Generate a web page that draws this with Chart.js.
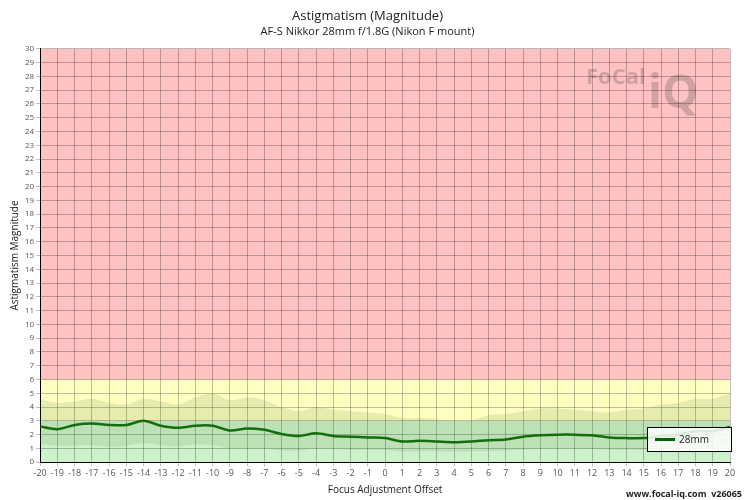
<!DOCTYPE html>
<html><head><meta charset="utf-8">
<script src="https://cdn.jsdelivr.net/npm/chart.js@4"></script>
<style>body{margin:0;background:#fff}#w{width:750px;height:500px;position:relative}</style>
</head><body><div id="w"><canvas id="c"></canvas></div>
<script>
const offsets=[-20,-19,-18,-17,-16,-15,-14,-13,-12,-11,-10,-9,-8,-7,-6,-5,-4,-3,-2,-1,0,1,2,3,4,5,6,7,8,9,10,11,12,13,14,15,16,17,18,19,20];
const magnitude=[2.6,2.4,2.7,2.8,2.7,2.7,3.0,2.65,2.5,2.65,2.65,2.3,2.45,2.35,2.05,1.9,2.1,1.9,1.85,1.8,1.75,1.5,1.55,1.5,1.45,1.5,1.6,1.65,1.85,1.95,2.0,2.0,1.95,1.8,1.75,1.75,1.9,2.0,2.25,2.25,2.55];
const upperBand=[4.6,4.3,4.4,4.6,4.3,4.2,4.6,4.4,4.2,4.7,5.0,4.5,4.7,4.5,4.0,3.7,4.0,3.8,3.7,3.6,3.5,3.2,3.2,3.1,3.0,3.0,3.4,3.5,3.7,3.9,3.9,3.8,3.7,3.6,3.8,3.9,4.2,4.3,4.6,4.6,5.0];
const lowerBand=[1.3,1.2,1.2,1.25,1.1,1.2,1.4,1.25,1.15,1.3,1.25,1.0,1.0,1.0,0.85,0.85,1.0,0.95,0.9,0.9,0.9,0.75,0.8,0.8,0.75,0.8,0.8,0.85,0.9,0.95,1.0,1.0,0.95,0.9,0.9,0.9,0.95,1.0,1.05,1.1,1.2];
const zones=[{from:0,to:3,color:'#ccf2cc'},{from:3,to:6,color:'#ffffc2'},{from:6,to:30,color:'#ffc2c2'}];
const FONT='"Open Sans", sans-serif';
const bg={id:'bg',beforeDraw(ch){const {ctx,chartArea:a,scales:{y}}=ch;zones.forEach(z=>{const t=y.getPixelForValue(z.to),b=y.getPixelForValue(z.from);ctx.fillStyle=z.color;ctx.fillRect(a.left,t,a.right-a.left,b-t);});
 ctx.save();ctx.font='bold 22px '+FONT;ctx.fillStyle='rgba(120,100,100,0.35)';ctx.fillText('FoCal',586,84);ctx.font='bold 46px '+FONT;ctx.fillText('iQ',648,108);ctx.restore();},
 afterDraw(ch){const {ctx}=ch;ctx.save();
 const x=647,y=427,w=84,h=24;ctx.fillStyle='rgba(255,255,255,0.85)';ctx.fillRect(x,y,w,h);ctx.strokeStyle='#000';ctx.lineWidth=1;ctx.strokeRect(x+0.5,y+0.5,w,h);
 ctx.strokeStyle='#006400';ctx.lineWidth=3;ctx.beginPath();ctx.moveTo(655,439.5);ctx.lineTo(675,439.5);ctx.stroke();
 ctx.fillStyle='#222';ctx.font='10px '+FONT;ctx.textBaseline='middle';ctx.fillText('28mm',679,440);
 ctx.font='bold 9px '+FONT;ctx.textAlign='right';ctx.fillText('www.focal-iq.com  v26065',742,494);ctx.restore();}};
new Chart(document.getElementById('c'),{type:'line',
data:{labels:offsets,datasets:[
 {data:upperBand,borderWidth:0,pointRadius:0,fill:false,tension:0.3},
 {data:lowerBand,borderWidth:0,pointRadius:0,fill:'-1',backgroundColor:'rgba(110,150,80,0.18)',tension:0.3},
 {data:magnitude,borderColor:'#006400',borderWidth:2.5,pointRadius:0,fill:false,tension:0.3}]},
options:{responsive:true,maintainAspectRatio:false,animation:false,
 layout:{padding:{left:5,right:20,top:0,bottom:2}},
 plugins:{legend:{display:false},tooltip:{enabled:false},
  title:{display:true,text:'Astigmatism (Magnitude)',color:'#222',font:{family:FONT,size:13,weight:'normal'},padding:{top:8,bottom:2}},
  subtitle:{display:true,text:'AF-S Nikkor 28mm f/1.8G (Nikon F mount)',color:'#222',font:{family:FONT,size:11},padding:{bottom:10}}},
 scales:{
  x:{type:'category',offset:false,grid:{color:'rgba(0,0,0,0.25)',drawTicks:true,tickLength:4},border:{color:'#000'},
   ticks:{color:'#555',font:{family:FONT,size:9},maxRotation:0,autoSkip:false,padding:2},
   title:{display:true,text:'Focus Adjustment Offset',color:'#222',font:{family:FONT,size:10},padding:{top:3,bottom:2}}},
  y:{min:0,max:30,grid:{color:'rgba(0,0,0,0.25)',tickLength:4},border:{color:'#000'},
   ticks:{stepSize:1,autoSkip:false,color:'#555',font:{family:FONT,size:8},padding:2},
   title:{display:true,text:'Astigmatism Magnitude',color:'#222',font:{family:FONT,size:10},padding:{bottom:2}}}}},
plugins:[bg]});
</script></body></html>
